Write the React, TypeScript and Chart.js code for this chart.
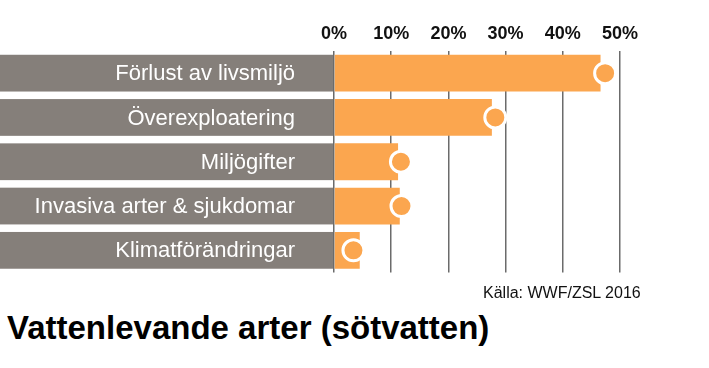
import React, { useEffect, useRef } from "react";
import { Chart, registerables } from "chart.js";

Chart.register(...registerables);

const categories = [
  "Förlust av livsmiljö",
  "Överexploatering",
  "Miljögifter",
  "Invasiva arter & sjukdomar",
  "Klimatförändringar",
];
const barValues = [46.6, 27.6, 11.2, 11.5, 4.5];
const markerValues = [47.4, 28.2, 11.7, 11.8, 3.4];
const tickValues = [0, 10, 20, 30, 40, 50];
const titleText = "Vattenlevande arter (sötvatten)";
const sourceText = "Källa: WWF/ZSL 2016";

const ORANGE = "#FBA64F";
const GRAY = "#857F7A";
const GRID = "#6B6B6B";
const FONT = "'Liberation Sans', Arial, sans-serif";

// Gray label bands behind the category names, drawn from the bar geometry.
const labelBands = {
  id: "labelBands",
  beforeDraw(chart: any) {
    const meta = chart.getDatasetMeta(0);
    const ctx = chart.ctx;
    const x0 = chart.scales.x.getPixelForValue(0);
    const labels = chart.data.labels as string[];
    ctx.save();
    meta.data.forEach((el: any, i: number) => {
      const h = el.height;
      ctx.fillStyle = GRAY;
      ctx.fillRect(0, el.y - h / 2, x0, h);
      ctx.fillStyle = "#FFFFFF";
      ctx.font = `22px ${FONT}`;
      ctx.textAlign = "right";
      ctx.textBaseline = "middle";
      ctx.fillText(labels[i], x0 - 39, el.y + 1);
    });
    ctx.restore();
  },
};

export default function App() {
  const ref = useRef<HTMLCanvasElement | null>(null);

  useEffect(() => {
    if (!ref.current) return;
    const chart = new Chart(ref.current, {
      type: "bar",
      data: {
        labels: categories,
        datasets: [
          {
            type: "bar",
            data: barValues,
            backgroundColor: ORANGE,
            borderWidth: 0,
            barPercentage: 0.83,
            categoryPercentage: 1,
            order: 2,
          } as any,
          {
            type: "line",
            indexAxis: "y",
            data: markerValues,
            showLine: false,
            pointRadius: 10.5,
            pointHoverRadius: 10.5,
            pointBackgroundColor: ORANGE,
            pointBorderColor: "#FFFFFF",
            pointBorderWidth: 3,
            order: 1,
          } as any,
        ],
      },
      options: {
        indexAxis: "y",
        responsive: true,
        maintainAspectRatio: false,
        animation: false,
        devicePixelRatio: 1,
        layout: { padding: { left: 0, right: 89, top: 0, bottom: 0 } },
        plugins: {
          legend: { display: false },
          tooltip: { enabled: false },
          title: { display: false },
        },
        scales: {
          x: {
            position: "top",
            min: 0,
            max: 50,
            afterBuildTicks: (scale: any) => {
              scale.ticks = tickValues.map((v) => ({ value: v }));
            },
            afterFit: (scale: any) => {
              scale.height = 51;
            },
            ticks: {
              callback: (v: any) => v + "%",
              color: "#111111",
              font: { family: FONT, size: 18, weight: "bold" },
              padding: 6,
              maxRotation: 0,
              autoSkip: false,
            },
            grid: {
              color: GRID,
              lineWidth: 1.5,
              drawTicks: false,
            },
            border: { display: false },
          },
          y: {
            afterFit: (scale: any) => {
              scale.width = 334;
            },
            ticks: { display: false },
            grid: { display: false, drawTicks: false },
            border: { display: false },
          },
        },
      },
      plugins: [labelBands],
    } as any);
    return () => chart.destroy();
  }, []);

  return (
    <div
      style={{
        position: "fixed",
        left: 0,
        top: 0,
        width: 709,
        height: 368,
        background: "#FFFFFF",
        overflow: "hidden",
      }}
    >
      <div style={{ position: "absolute", left: 0, top: 0, width: 709, height: 286 }}>
        <canvas ref={ref} />
      </div>
      <div
        style={{
          position: "absolute",
          left: 483,
          top: 284,
          fontFamily: FONT,
          fontSize: 16,
          color: "#111111",
          whiteSpace: "nowrap",
          lineHeight: "18px",
        }}
      >
        {sourceText}
      </div>
      <div
        style={{
          position: "absolute",
          left: 7,
          top: 309,
          fontFamily: FONT,
          fontSize: 33,
          fontWeight: "bold",
          color: "#000000",
          whiteSpace: "nowrap",
          lineHeight: "38px",
        }}
      >
        {titleText}
      </div>
    </div>
  );
}
